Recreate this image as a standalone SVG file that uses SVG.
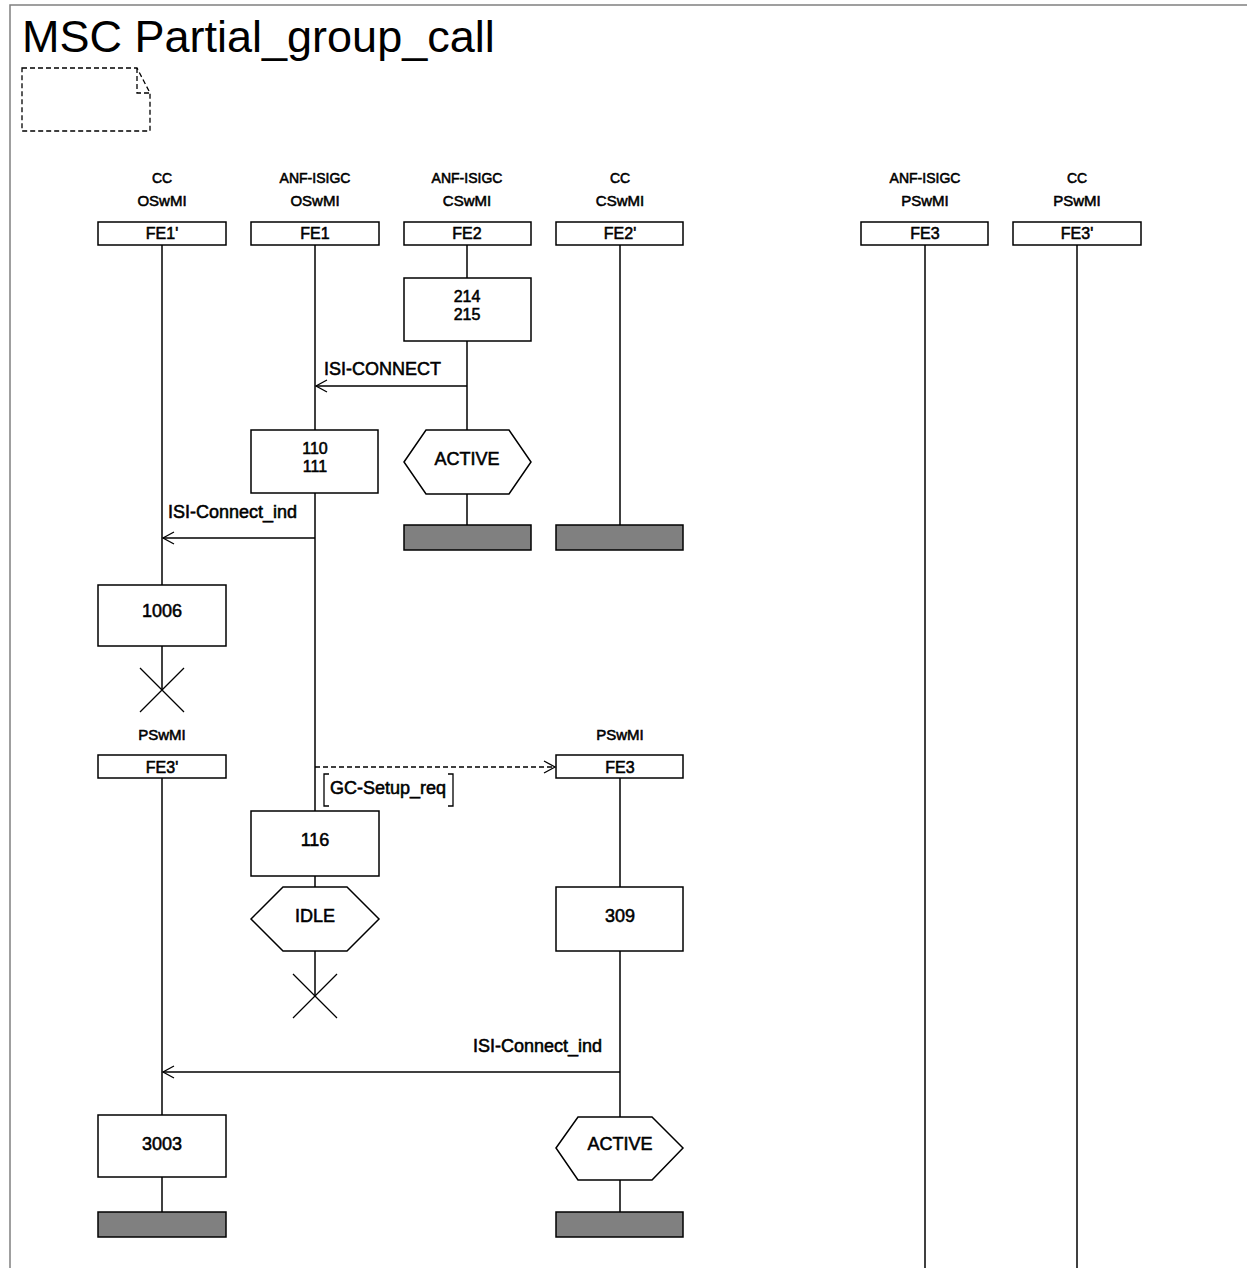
<svg xmlns="http://www.w3.org/2000/svg" width="1247" height="1268" viewBox="0 0 1247 1268">
<style>
text{font-family:"Liberation Sans",Arial,sans-serif;fill:#000}
.t{font-size:45px}
.h1{font-size:14px;text-anchor:middle;stroke:#000;stroke-width:0.55}
.h2{font-size:15px;text-anchor:middle;stroke:#000;stroke-width:0.55}
.f{font-size:16px;text-anchor:middle;stroke:#000;stroke-width:0.55}
.b{font-size:18px;text-anchor:middle;stroke:#000;stroke-width:0.55}
.d{font-size:16px;text-anchor:middle;stroke:#000;stroke-width:0.55}
.m{font-size:18px;stroke:#000;stroke-width:0.55}
.box{fill:#fff;stroke:#000;stroke-width:1.5}
.bar{fill:#808080;stroke:#000;stroke-width:1.5}
.ll{stroke:#000;stroke-width:1.5;fill:none}
.ln{stroke:#000;stroke-width:1.3;fill:none}
.dash{stroke:#000;stroke-width:1.3;fill:none;stroke-dasharray:5,3}
</style>
<defs>
<marker id="ah" markerWidth="14" markerHeight="14" refX="12" refY="7" orient="auto" markerUnits="userSpaceOnUse">
<path d="M1,1 L12,7 L1,13" fill="none" stroke="#000" stroke-width="1.3"/>
</marker>
</defs>
<rect width="1247" height="1268" fill="#fff"/>
<path d="M10,1268 L10,5 L1247,5" fill="none" stroke="#808080" stroke-width="1.5"/>
<text class="t" x="22" y="52">MSC Partial_group_call</text>
<g id="comment" fill="none" stroke="#000" stroke-width="1.3" stroke-dasharray="5,3">
<path d="M22,68 L137,68 L150,93 L150,131 L22,131 Z"/>
<path d="M137,68 L137,93 L150,93"/>
</g>
<g id="lifelines">
<line class="ll" x1="162" y1="245" x2="162" y2="585"/>
<line class="ll" x1="162" y1="646" x2="162" y2="690"/>
<line class="ll" x1="315" y1="245" x2="315" y2="430"/>
<line class="ll" x1="315" y1="493" x2="315" y2="811"/>
<line class="ll" x1="315" y1="876" x2="315" y2="887"/>
<line class="ll" x1="315" y1="951" x2="315" y2="996"/>
<line class="ll" x1="467" y1="245" x2="467" y2="278"/>
<line class="ll" x1="467" y1="341" x2="467" y2="430"/>
<line class="ll" x1="467" y1="494" x2="467" y2="525"/>
<line class="ll" x1="620" y1="245" x2="620" y2="525"/>
<line class="ll" x1="925" y1="245" x2="925" y2="1268"/>
<line class="ll" x1="1077" y1="245" x2="1077" y2="1268"/>
<line class="ll" x1="162" y1="778" x2="162" y2="1115"/>
<line class="ll" x1="162" y1="1177" x2="162" y2="1212"/>
<line class="ll" x1="620" y1="778" x2="620" y2="887"/>
<line class="ll" x1="620" y1="951" x2="620" y2="1117"/>
<line class="ll" x1="620" y1="1180" x2="620" y2="1212"/>
</g>
<g id="inst_FE1p">
<text class="h1" x="162" y="183">CC</text>
<text class="h2" x="162" y="206">OSwMI</text>
<rect class="box" x="98" y="222" width="128" height="23"/>
<text class="f" x="162" y="239">FE1'</text>
</g>
<g id="inst_FE1">
<text class="h1" x="315" y="183">ANF-ISIGC</text>
<text class="h2" x="315" y="206">OSwMI</text>
<rect class="box" x="251" y="222" width="128" height="23"/>
<text class="f" x="315" y="239">FE1</text>
</g>
<g id="inst_FE2">
<text class="h1" x="467" y="183">ANF-ISIGC</text>
<text class="h2" x="467" y="206">CSwMI</text>
<rect class="box" x="404" y="222" width="127" height="23"/>
<text class="f" x="467" y="239">FE2</text>
</g>
<g id="inst_FE2p">
<text class="h1" x="620" y="183">CC</text>
<text class="h2" x="620" y="206">CSwMI</text>
<rect class="box" x="556" y="222" width="127" height="23"/>
<text class="f" x="620" y="239">FE2'</text>
</g>
<g id="inst_FE3">
<text class="h1" x="925" y="183">ANF-ISIGC</text>
<text class="h2" x="925" y="206">PSwMI</text>
<rect class="box" x="861" y="222" width="127" height="23"/>
<text class="f" x="925" y="239">FE3</text>
</g>
<g id="inst_FE3p">
<text class="h1" x="1077" y="183">CC</text>
<text class="h2" x="1077" y="206">PSwMI</text>
<rect class="box" x="1013" y="222" width="128" height="23"/>
<text class="f" x="1077" y="239">FE3'</text>
</g>
<g id="act_214">
<rect class="box" x="404" y="278" width="127" height="63"/>
<text class="d" x="467" y="302">214</text>
<text class="d" x="467" y="320">215</text>
</g>
<g id="act_110">
<rect class="box" x="251" y="430" width="127" height="63"/>
<text class="d" x="315" y="454">110</text>
<text class="d" x="315" y="472">111</text>
</g>
<g id="state_active1">
<polygon class="box" points="404,462 426,430 509,430 531,462 509,494 426,494"/>
<text class="b" x="467" y="465">ACTIVE</text>
</g>
<g id="end_FE2"><rect class="bar" x="404" y="525" width="127" height="25"/></g>
<g id="end_FE2p"><rect class="bar" x="556" y="525" width="127" height="25"/></g>
<g id="act_1006">
<rect class="box" x="98" y="585" width="128" height="61"/>
<text class="b" x="162" y="617">1006</text>
</g>
<g id="stop_FE1p">
<path class="ln" d="M140,668 L184,712 M184,668 L140,712"/>
</g>
<g id="inst_FE3p_b">
<text class="h2" x="162" y="740">PSwMI</text>
<rect class="box" x="98" y="755" width="128" height="23"/>
<text class="f" x="162" y="773">FE3'</text>
</g>
<g id="inst_FE3_b">
<text class="h2" x="620" y="740">PSwMI</text>
<rect class="box" x="556" y="755" width="127" height="23"/>
<text class="f" x="620" y="773">FE3</text>
</g>
<g id="act_116">
<rect class="box" x="251" y="811" width="128" height="65"/>
<text class="b" x="315" y="846">116</text>
</g>
<g id="state_idle">
<polygon class="box" points="251,919 283,887 347,887 379,919 347,951 283,951"/>
<text class="b" x="315" y="922">IDLE</text>
</g>
<g id="stop_FE1">
<path class="ln" d="M293,974 L337,1018 M337,974 L293,1018"/>
</g>
<g id="act_309">
<rect class="box" x="556" y="887" width="127" height="64"/>
<text class="b" x="620" y="922">309</text>
</g>
<g id="act_3003">
<rect class="box" x="98" y="1115" width="128" height="62"/>
<text class="b" x="162" y="1150">3003</text>
</g>
<g id="state_active2">
<polygon class="box" points="556,1148 578,1117 652,1117 683,1148 652,1180 578,1180"/>
<text class="b" x="620" y="1150">ACTIVE</text>
</g>
<g id="end_FE3p_b"><rect class="bar" x="98" y="1212" width="128" height="25"/></g>
<g id="end_FE3_b"><rect class="bar" x="556" y="1212" width="127" height="25"/></g>
<g id="connectors">
<line class="ln" x1="467" y1="386" x2="316" y2="386" marker-end="url(#ah)"/>
<text class="m" x="324" y="375">ISI-CONNECT</text>
<line class="ln" x1="315" y1="538" x2="163" y2="538" marker-end="url(#ah)"/>
<text class="m" x="168" y="518">ISI-Connect_ind</text>
<line class="dash" x1="315" y1="767" x2="555" y2="767" marker-end="url(#ah)"/>
<path class="ln" d="M329,774 L324,774 L324,806 L329,806 M448,774 L453,774 L453,806 L448,806"/>
<text class="m" x="330" y="794">GC-Setup_req</text>
<line class="ln" x1="620" y1="1072" x2="163" y2="1072" marker-end="url(#ah)"/>
<text class="m" x="602" y="1052" text-anchor="end">ISI-Connect_ind</text>
</g>
</svg>
